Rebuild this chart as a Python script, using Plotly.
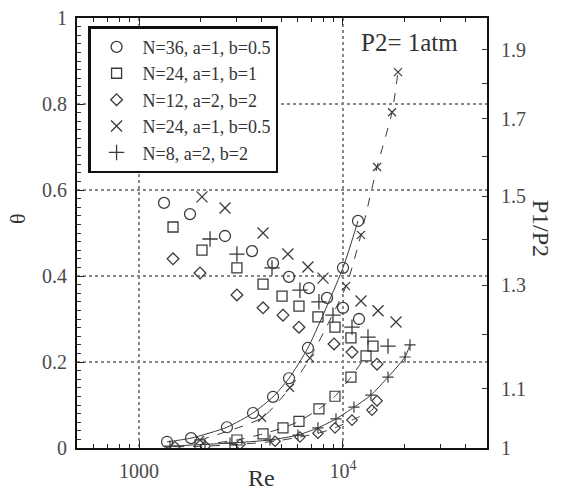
import plotly.graph_objects as go

# ---------------- data ----------------
# theta (left axis), scatter only
re_circ_t = [1326, 1778, 2640, 3581, 4540, 5436, 6810, 8350, 10000, 11980]
th_circ = [0.570, 0.544, 0.493, 0.458, 0.430, 0.398, 0.372, 0.349, 0.326, 0.300]

re_sq_t = [1468, 2036, 3020, 4055, 5025, 6085, 7538, 9137, 10940, 14030]
th_sq = [0.514, 0.460, 0.419, 0.381, 0.353, 0.330, 0.305, 0.281, 0.256, 0.237]

re_dia_t = [1468, 1991, 3020, 4055, 5081, 6085, 9037, 11070, 14690]
th_dia = [0.440, 0.407, 0.356, 0.326, 0.309, 0.281, 0.242, 0.223, 0.195]

re_x_t = [2036, 2640, 4055, 5370, 6730, 7980, 12250, 14850, 18200]
th_x = [0.584, 0.558, 0.500, 0.451, 0.421, 0.395, 0.342, 0.319, 0.293]

re_pl_t = [2230, 3020, 4487, 6152, 7624, 8930, 11070, 13260, 16620]
th_pl = [0.486, 0.451, 0.419, 0.367, 0.340, 0.309, 0.281, 0.258, 0.237]

# P1/P2 (right axis), markers + line
re_circ_p = [1372, 1799, 2698, 3622, 4540, 5436, 6730, 10000, 11845]
p_circ = [1.010, 1.016, 1.034, 1.058, 1.086, 1.119, 1.175, 1.337, 1.442]

re_sq_p = [1991, 3020, 4055, 5081, 6085, 7624, 9137, 10940, 12970]
p_sq = [1.005, 1.013, 1.023, 1.033, 1.044, 1.065, 1.087, 1.121, 1.160]

re_dia_p = [1501, 2110, 3126, 4645, 6152, 7538, 9137, 11070, 13870, 14690]
p_dia = [1.002, 1.003, 1.006, 1.011, 1.018, 1.024, 1.033, 1.046, 1.063, 1.079]

re_x_p = [1991, 4009, 5495, 6887, 10350, 12250, 14690, 17400, 18600]
p_x = [1.013, 1.050, 1.102, 1.156, 1.298, 1.410, 1.573, 1.718, 1.833]

re_pl_p = [1419, 2793, 4385, 6012, 7538, 9240, 11320, 13710, 16620, 20140, 21300]
p_pl = [1.003, 1.008, 1.013, 1.021, 1.033, 1.048, 1.068, 1.089, 1.121, 1.158, 1.181]

legend_names = ["N=36, a=1, b=0.5", "N=24, a=1, b=1", "N=12, a=2, b=2",
                "N=24, a=1, b=0.5", "N=8, a=2, b=2"]

x_tickvals = [1000, 10000]
x_ticktext = ["1000", "10<sup>4</sup>"]
x_minor = [600, 700, 800, 900, 2000, 3000, 4000, 5000, 6000, 7000, 8000, 9000,
           20000, 30000, 40000]
y_tickvals = [0, 0.2, 0.4, 0.6, 0.8, 1]
y2_tickvals = [1, 1.1, 1.3, 1.5, 1.7, 1.9]
y2_ticktext = ["1", "1.1", "1.3", "1.5", "1.7", "1.9"]
y2_minor = [1.2, 1.4, 1.6, 1.8]

# ---------------- figure ----------------
FONT = "Liberation Serif, Times New Roman, serif"
MC = "#3a3a3a"
TC = "#4a4a4a"

fig = go.Figure()

theta_sets = [
    (re_circ_t, th_circ, "circle-open", 11),
    (re_sq_t, th_sq, "square-open", 10),
    (re_dia_t, th_dia, "diamond-open", 9),
    (re_x_t, th_x, "x-thin-open", 11),
    (re_pl_t, th_pl, "cross-thin-open", 11),
]
for (xs, ys, sym, sz), nm in zip(theta_sets, legend_names):
    fig.add_trace(go.Scatter(
        x=xs, y=ys, mode="markers", name=nm,
        marker=dict(symbol=sym, size=sz, color=MC, line=dict(width=1.3, color=MC)),
    ))

p_sets = [
    (re_circ_p, p_circ, "circle-open", 11, "solid"),
    (re_sq_p, p_sq, "square-open", 10, "dash"),
    (re_dia_p, p_dia, "diamond-open", 8, "dash"),
    (re_x_p, p_x, "x-thin-open", 8, "dash"),
    (re_pl_p, p_pl, "cross-thin-open", 8, "solid"),
]
for xs, ys, sym, sz, dash in p_sets:
    fig.add_trace(go.Scatter(
        x=xs, y=ys, mode="lines+markers", yaxis="y2", showlegend=False,
        line=dict(color=MC, width=1, dash=dash, shape="spline", smoothing=0.6),
        marker=dict(symbol=sym, size=sz, color=MC, line=dict(width=1.2, color=MC)),
    ))

fig.update_layout(
    width=566, height=495,
    margin=dict(l=77, r=79, t=18, b=47),
    paper_bgcolor="white", plot_bgcolor="white",
    font=dict(family=FONT, size=20, color=TC),
    xaxis=dict(
        type="log", range=[2.696, 4.706], automargin=False,
        tickvals=x_tickvals, ticktext=x_ticktext,
        ticks="inside", ticklen=7, tickwidth=1, tickcolor="#222",
        showline=True, linecolor="#111", linewidth=2, mirror="ticks",
        showgrid=True, gridcolor="#888", griddash="dot", gridwidth=1.5,
        minor=dict(tickvals=x_minor, ticks="inside", ticklen=4, tickcolor="#222",
                   showgrid=False),
        tickfont=dict(family=FONT, size=20, color=TC),
        ticklabelstandoff=4,
        zeroline=False,
    ),
    yaxis=dict(
        range=[0, 1], tickvals=y_tickvals, automargin=False,
        ticks="inside", ticklen=7, tickwidth=1, tickcolor="#222",
        showline=True, linecolor="#111", linewidth=2,
        showgrid=True, gridcolor="#888", griddash="dot", gridwidth=1.5,
        minor=dict(dtick=0.02, ticks="inside", ticklen=4, tickcolor="#333",
                   showgrid=False),
        tickfont=dict(family=FONT, size=20, color=TC),
        ticklabelstandoff=4,
        zeroline=False,
    ),
    yaxis2=dict(
        type="log", range=[0, 0.30103], overlaying="y", side="right",
        automargin=False,
        tickvals=y2_tickvals, ticktext=y2_ticktext,
        ticks="inside", ticklen=5, tickwidth=1, tickcolor="#333",
        showline=True, linecolor="#111", linewidth=2,
        showgrid=False, zeroline=False,
        minor=dict(tickvals=y2_minor, ticks="inside", ticklen=5, tickcolor="#333"),
        tickfont=dict(family=FONT, size=20, color=TC),
        ticklabelstandoff=8,
    ),
    legend=dict(
        x=0.027, y=0.981, xanchor="left", yanchor="top",
        bgcolor="white", bordercolor="#111", borderwidth=2.5,
        font=dict(family=FONT, size=18, color="#333"),
        itemwidth=42,
    ),
    showlegend=True,
    annotations=[
        dict(text="P2= 1atm", x=0.81, y=0.942, xref="paper", yref="paper",
             xanchor="center", yanchor="middle",
             showarrow=False, font=dict(family=FONT, size=25, color="#333")),
        dict(text="P1/P2", x=1.132, y=0.512, xref="paper", yref="paper",
             xanchor="center", yanchor="middle",
             showarrow=False, textangle=90,
             font=dict(family=FONT, size=24, color="#333")),
        dict(text="Re", x=0.451, y=-0.07, xref="paper", yref="paper",
             xanchor="center", yanchor="middle",
             showarrow=False, font=dict(family=FONT, size=24, color="#333")),
        dict(text="θ", x=-0.144, y=0.535, xref="paper", yref="paper",
             xanchor="center", yanchor="middle", textangle=-90,
             showarrow=False, font=dict(family=FONT, size=22, color="#333")),
    ],
)

fig.write_html("out.html")
